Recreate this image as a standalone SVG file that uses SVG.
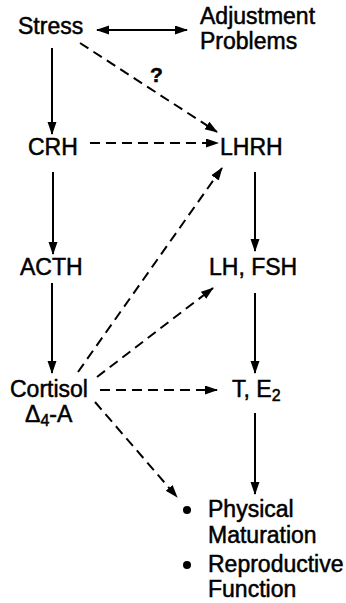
<svg xmlns="http://www.w3.org/2000/svg" width="346" height="603" viewBox="0 0 346 603">
<style>
text{font-family:"Liberation Sans",Arial,sans-serif;font-size:23px;fill:#000;stroke:#000;stroke-width:0.5}
.s{stroke:#000;stroke-width:2;fill:none}
.d{stroke:#000;stroke-width:2;fill:none;stroke-dasharray:10 6}
.sub{font-size:16px}
</style>
<defs>
<marker id="ah" markerUnits="userSpaceOnUse" markerWidth="13" markerHeight="10" refX="12" refY="4.5" orient="auto-start-reverse">
<path d="M0,0 L13,4.5 L0,9 z" fill="#000"/>
</marker>
</defs>
<g id="connectors">
<line class="s" x1="97" y1="30" x2="187" y2="30" marker-start="url(#ah)" marker-end="url(#ah)"/>
<line class="s" x1="52" y1="48" x2="52" y2="134" marker-end="url(#ah)"/>
<line class="d" x1="80" y1="43" x2="217" y2="132" marker-end="url(#ah)"/>
<line class="d" x1="90" y1="143" x2="218" y2="143" marker-end="url(#ah)"/>
<line class="s" x1="53" y1="172" x2="53" y2="254" marker-end="url(#ah)"/>
<line class="s" x1="255" y1="172" x2="255" y2="251" marker-end="url(#ah)"/>
<line class="d" x1="78" y1="372" x2="222" y2="168" marker-end="url(#ah)"/>
<line class="d" x1="97" y1="377" x2="213" y2="288" marker-end="url(#ah)"/>
<line class="s" x1="52" y1="283" x2="52" y2="373" marker-end="url(#ah)"/>
<line class="d" x1="100" y1="390" x2="217" y2="390" marker-end="url(#ah)"/>
<line class="s" x1="255" y1="293" x2="255" y2="373" marker-end="url(#ah)"/>
<line class="s" x1="255" y1="413" x2="255" y2="494" marker-end="url(#ah)"/>
<line class="d" x1="95" y1="402" x2="177" y2="497" marker-end="url(#ah)"/>
<text x="150" y="82" style="font-weight:bold;font-size:21px">?</text>
</g>
<g id="stress"><text x="18" y="34">Stress</text></g>
<g id="adjustment"><text x="200" y="24">Adjustment</text><text x="200" y="49">Problems</text></g>
<g id="crh"><text x="28" y="155">CRH</text></g>
<g id="lhrh"><text x="220" y="155">LHRH</text></g>
<g id="acth"><text x="20" y="275">ACTH</text></g>
<g id="lhfsh"><text x="209" y="275">LH, FSH</text></g>
<g id="cortisol"><text x="10" y="397">Cortisol</text><text x="25" y="422">Δ<tspan class="sub" dy="4">4</tspan><tspan dy="-4">-A</tspan></text></g>
<g id="te2"><text x="232" y="397">T, E<tspan class="sub" dy="4">2</tspan></text></g>
<g id="outcomes">
<circle cx="187" cy="510" r="4"/>
<text x="208" y="517">Physical</text>
<text x="208" y="543">Maturation</text>
<circle cx="187" cy="565" r="4"/>
<text x="208" y="572">Reproductive</text>
<text x="208" y="597">Function</text>
</g>
</svg>
